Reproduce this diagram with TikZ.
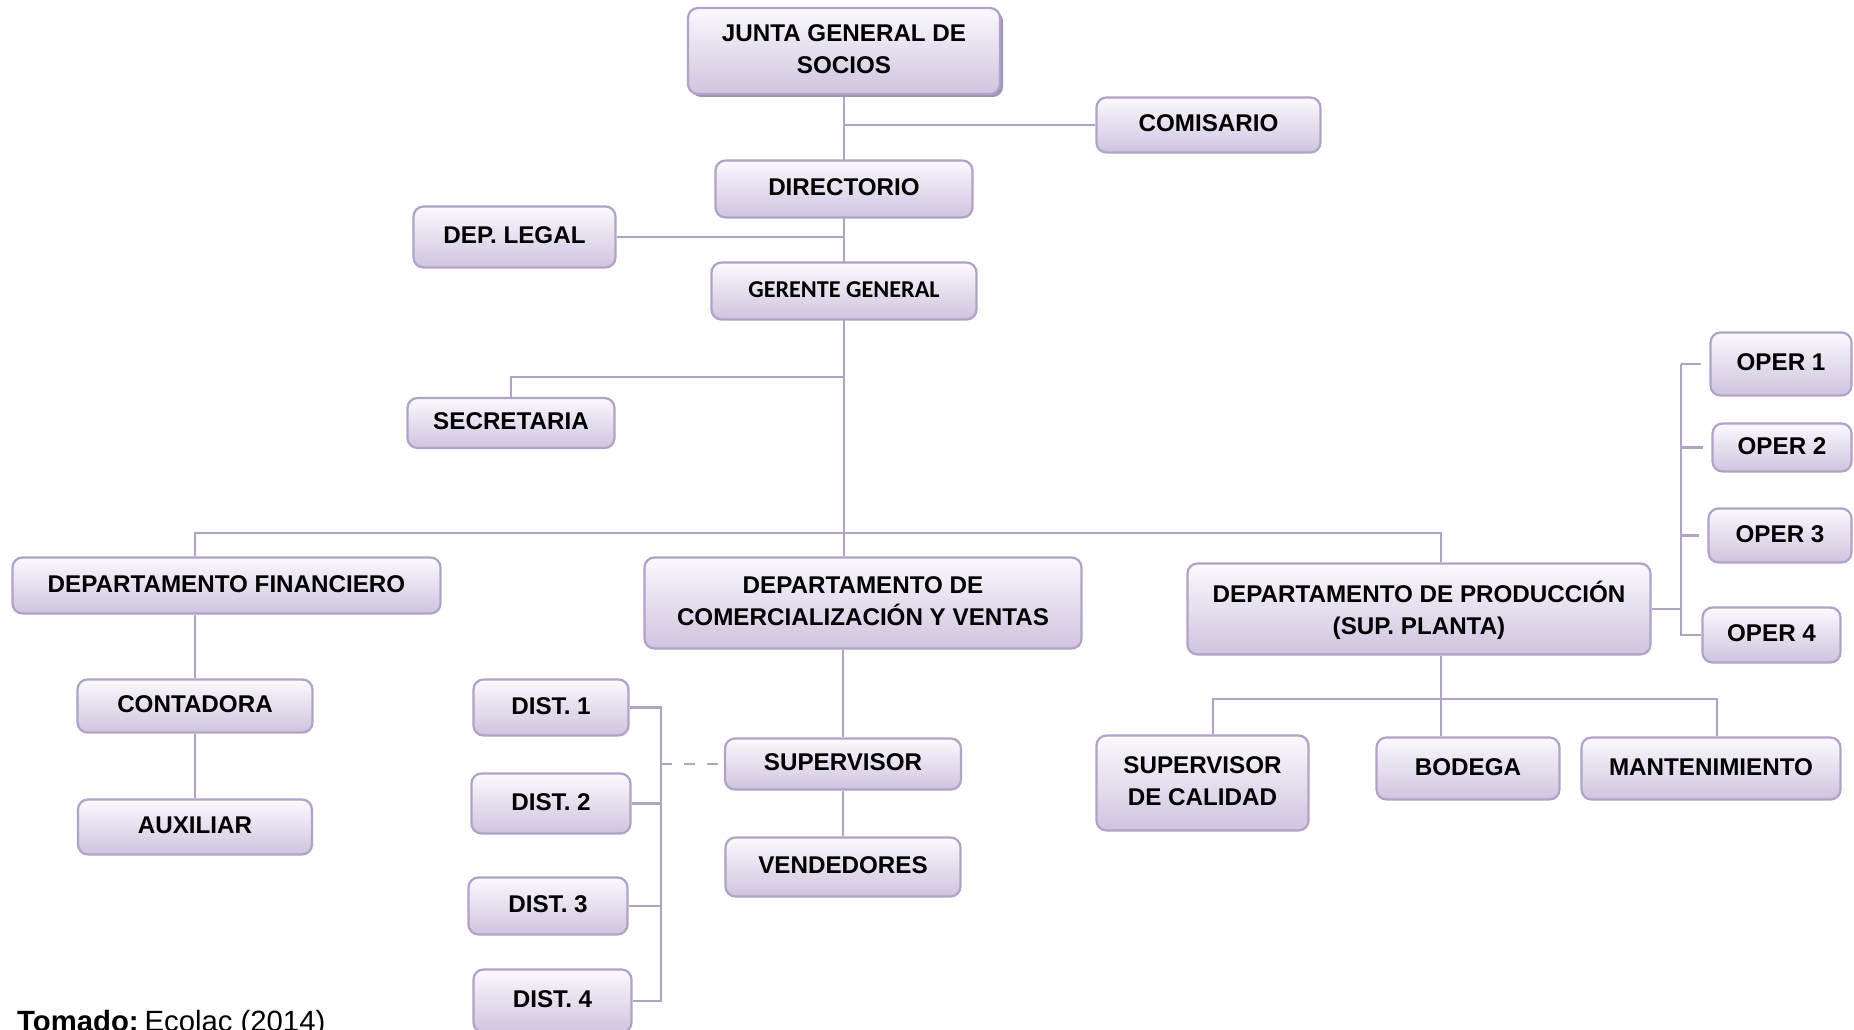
\documentclass[tikz,border=0pt]{standalone}
\usepackage{fontspec}
\setmainfont{Liberation Sans}
\newfontfamily\calibrifont{Carlito}
\usetikzlibrary{backgrounds,shadows}

\definecolor{lav}{RGB}{179,162,199}
\definecolor{lavtop}{RGB}{251,249,253}
\definecolor{lavbot}{RGB}{207,196,223}
\definecolor{lavshadow}{RGB}{160,146,184}

\tikzset{
  box/.style={draw=lav, line width=2.2pt, rounded corners=10pt,
    top color=lavtop, bottom color=lavbot, align=center, inner sep=0pt,
    text depth=3pt, font=\bfseries\fontsize{24.2}{32}\selectfont},
  link/.style={draw=lav, line width=2.2pt},
  dashlink/.style={link, dash pattern=on 11pt off 12pt},
}

\begin{document}
\begin{tikzpicture}[x=1pt,y=-1pt]
\useasboundingbox (0,0) rectangle (1854,1030);

% top of the hierarchy
\node[box, minimum width=312pt, minimum height=86pt,
  drop shadow={shadow xshift=3pt,shadow yshift=-3pt,fill=lavshadow,opacity=1}]
  (junta) at (844,51) {JUNTA GENERAL DE\\SOCIOS};
\node[box, minimum width=224pt, minimum height=55pt] (comisario) at (1208.5,125) {COMISARIO};
\node[box, minimum width=257pt, minimum height=57pt] (directorio) at (844,189) {DIRECTORIO};
\node[box, minimum width=202pt, minimum height=61pt] (legal) at (514.5,237) {DEP. LEGAL};
\node[box, minimum width=265pt, minimum height=57pt,
  font=\calibrifont\bfseries\fontsize{24.2}{28}\selectfont] (gerente) at (844,291) {GERENTE GENERAL};
\node[box, minimum width=207pt, minimum height=50pt] (secretaria) at (511,423) {SECRETARIA};

% departments
\node[box, minimum width=428pt, minimum height=56pt] (fin) at (226.5,585.5) {DEPARTAMENTO FINANCIERO};
\node[box, minimum width=437pt, minimum height=91pt] (com) at (863,603) {DEPARTAMENTO DE\\COMERCIALIZACIÓN Y VENTAS};
\node[box, minimum width=463pt, minimum height=91pt] (prod) at (1419,609) {DEPARTAMENTO DE PRODUCCIÓN\\(SUP. PLANTA)};

% operators
\node[box, minimum width=141pt, minimum height=63pt] (oper1) at (1781,364) {OPER 1};
\node[box, minimum width=139pt, minimum height=48pt] (oper2) at (1782,447.5) {OPER 2};
\node[box, minimum width=143pt, minimum height=54pt] (oper3) at (1780,535.5) {OPER 3};
\node[box, minimum width=138pt, minimum height=55pt] (oper4) at (1771.5,635) {OPER 4};

% finance
\node[box, minimum width=235pt, minimum height=53pt] (contadora) at (195,706) {CONTADORA};
\node[box, minimum width=234pt, minimum height=55pt] (auxiliar) at (195,827) {AUXILIAR};

% sales
\node[box, minimum width=155pt, minimum height=56pt] (dist1) at (551,707.5) {DIST. 1};
\node[box, minimum width=159pt, minimum height=60pt] (dist2) at (551,803.5) {DIST. 2};
\node[box, minimum width=159pt, minimum height=57pt] (dist3) at (548,906) {DIST. 3};
\node[box, minimum width=158pt, minimum height=63pt] (dist4) at (552.5,1001) {DIST. 4};
\node[box, minimum width=236pt, minimum height=51pt] (supervisor) at (843,764) {SUPERVISOR};
\node[box, minimum width=235pt, minimum height=59pt] (vendedores) at (843,867) {VENDEDORES};

% production
\node[box, minimum width=212pt, minimum height=95pt] (calidad) at (1202.5,783) {SUPERVISOR\\DE CALIDAD};
\node[box, minimum width=183pt, minimum height=62pt] (bodega) at (1468,768.5) {BODEGA};
\node[box, minimum width=259pt, minimum height=62pt] (mant) at (1711,768.5) {MANTENIMIENTO};

% source note
\node[anchor=base west, inner sep=0pt, font=\fontsize{29.3}{33}\selectfont]
  (fuente) at (17,1031) {\textbf{Tomado:}\hspace{0.2em}Ecolac (2014)};

% bus lines used by the connectors
\coordinate (bar) at (0,533);
\coordinate (secj) at (0,377);
\coordinate (distbus) at (661,0);
\coordinate (operbus) at (1681,0);
\coordinate (prodbar) at (0,699);
\coordinate (prodx) at (1441,0);
\coordinate (calx) at (1213,0);
\coordinate (mantx) at (1717,0);

\begin{scope}[on background layer]
  \fill[white] (0,0) rectangle (1854,1030);
  % main trunk
  \draw[link] (junta.south) -- (com.north -| junta.south);
  \draw[link] (comisario.west -| junta.south) -- (comisario.west);
  \draw[link] (legal.east) -- (legal.east -| junta.south);
  \draw[link] (secretaria.north) |- (secj -| junta.south);
  % departments bar
  \draw[link] (fin.north -| contadora.north) |- (bar -| prodx) -- (prod.north -| prodx);
  \draw[link] (fin.south -| contadora.north) -- (contadora.north);
  \draw[link] (contadora.south) -- (auxiliar.north);
  % sales
  \draw[link] (com.south -| supervisor.north) -- (supervisor.north);
  \draw[link] (supervisor.south) -- (vendedores.north);
  \draw[link] (dist1.east) -| (dist4.east -| distbus) -- (dist4.east);
  \draw[link] (dist2.east) -- (dist2.east -| distbus);
  \draw[link] (dist3.east) -- (dist3.east -| distbus);
  \draw[dashlink] (supervisor.west -| distbus) -- (supervisor.west);
  % operators
  \draw[link] (oper1.west -| operbus) -- (oper4.west -| operbus) -- (oper4.west);
  \draw[link, shorten >=8pt] (oper1.west -| operbus) -- (oper1.west);
  \draw[link, shorten >=8pt] (oper2.west -| operbus) -- (oper2.west);
  \draw[link, shorten >=8pt] (oper3.west -| operbus) -- (oper3.west);
  \draw[link] (prod.east) -- (prod.east -| operbus);
  % production
  \draw[link] (prod.south -| prodx) -- (bodega.north -| prodx);
  \draw[link] (calidad.north -| calx) |- (prodbar -| mantx) -- (mant.north -| mantx);
\end{scope}
\end{tikzpicture}
\end{document}
